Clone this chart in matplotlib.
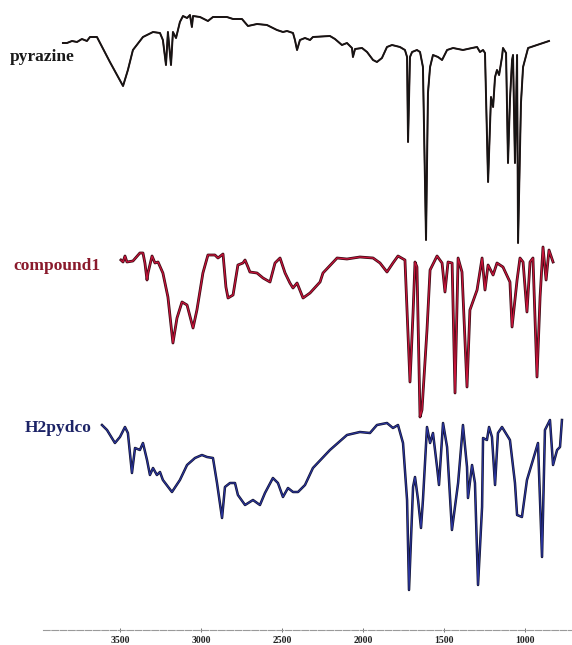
import matplotlib
matplotlib.use("Agg")
import matplotlib.pyplot as plt
import matplotlib.patheffects as pe

# ---------------- data (wavenumber in cm^-1, transmittance in a.u.) ----------------
pyr_wn = [3852, 3827, 3796, 3765, 3735, 3704, 3685, 3642, 3562, 3481, 3451, 3420, 3358, 3296,
          3253, 3235, 3216, 3204, 3185, 3173, 3154, 3130, 3111, 3086, 3068, 3056, 3049, 3006,
          2957, 2926, 2840, 2802, 2747, 2710, 2654, 2593, 2531, 2494, 2469, 2432, 2420, 2407,
          2389, 2358, 2327, 2309, 2204, 2173, 2130, 2099, 2068, 2062, 2049, 2006, 1975, 1938,
          1914, 1883, 1852, 1821, 1772, 1741, 1728, 1722, 1710, 1697, 1667, 1648, 1630, 1611,
          1599, 1586, 1568, 1537, 1512, 1481, 1444, 1383, 1327, 1296, 1278, 1259, 1247, 1228,
          1210, 1197, 1185, 1173, 1160, 1142, 1136, 1117, 1105, 1093, 1080, 1074, 1062, 1049,
          1043, 1025, 1012, 981, 926, 889, 852]
pyr_T = [207, 207, 209, 208, 211, 209, 213, 213, 188, 164, 180, 200, 213, 218,
         217, 210, 185, 218, 185, 218, 212, 228, 234, 232, 235, 223, 234, 233,
         229, 233, 233, 231, 231, 224, 226, 225, 220, 218, 219, 217, 210, 200,
         210, 212, 210, 213, 214, 211, 205, 207, 202, 193, 201, 202, 198, 190,
         188, 192, 203, 205, 203, 200, 193, 108, 193, 198, 200, 198, 183, 10,
         157, 183, 195, 193, 190, 200, 202, 200, 202, 203, 198, 200, 197, 68,
         153, 143, 173, 180, 175, 193, 202, 197, 87, 150, 190, 195, 87, 195,
         7, 147, 183, 202, 205, 207, 209]

cmp_wn = [3494, 3481, 3469, 3457, 3420, 3377, 3358, 3346, 3333, 3327, 3302, 3284, 3265, 3235,
          3204, 3173, 3148, 3117, 3086, 3049, 3025, 2988, 2957, 2914, 2895, 2864, 2846, 2833,
          2802, 2772, 2741, 2728, 2710, 2698, 2654, 2617, 2574, 2543, 2512, 2481, 2451, 2432,
          2407, 2370, 2327, 2265, 2247, 2160, 2099, 2019, 1938, 1895, 1852, 1815, 1784, 1741,
          1710, 1691, 1679, 1667, 1648, 1636, 1605, 1586, 1543, 1512, 1494, 1475, 1450, 1432,
          1413, 1389, 1358, 1340, 1296, 1265, 1247, 1228, 1197, 1173, 1136, 1093, 1080, 1049,
          1031, 1012, 988, 969, 951, 926, 907, 889, 870, 852, 827]
cmp_T = [170, 168, 174, 168, 169, 177, 177, 167, 150, 157, 174, 167, 168, 157,
         133, 87, 112, 128, 125, 102, 120, 157, 175, 175, 172, 176, 143, 132,
         135, 165, 167, 170, 163, 158, 157, 152, 148, 167, 172, 157, 147, 142,
         147, 132, 137, 148, 157, 172, 171, 173, 172, 167, 158, 167, 174, 170,
         48, 117, 168, 163, 13, 20, 100, 160, 174, 167, 138, 168, 167, 37,
         172, 158, 43, 120, 140, 172, 140, 165, 155, 167, 163, 148, 103, 150,
         172, 168, 118, 168, 172, 53, 133, 183, 150, 180, 168]

h2p_wn = [3611, 3580, 3531, 3500, 3469, 3451, 3426, 3407, 3377, 3358, 3333, 3315, 3296, 3272,
          3253, 3235, 3179, 3130, 3086, 3037, 2994, 2963, 2926, 2901, 2870, 2852, 2821, 2790,
          2772, 2728, 2679, 2636, 2605, 2556, 2525, 2494, 2463, 2432, 2401, 2358, 2309, 2204,
          2099, 2019, 1957, 1914, 1852, 1815, 1784, 1753, 1728, 1716, 1691, 1679, 1660, 1642,
          1630, 1605, 1586, 1568, 1543, 1531, 1506, 1481, 1451, 1413, 1383, 1358, 1352, 1327,
          1309, 1290, 1265, 1259, 1235, 1222, 1204, 1185, 1167, 1142, 1093, 1062, 1049, 1019,
          988, 951, 920, 895, 877, 846, 827, 802, 784, 772]
h2p_T = [175, 170, 157, 163, 173, 167, 127, 152, 150, 157, 140, 125, 132, 125,
         128, 120, 108, 120, 135, 142, 145, 143, 142, 117, 82, 113, 117, 117,
         105, 95, 100, 95, 107, 122, 117, 103, 112, 108, 108, 115, 132, 150,
         165, 168, 167, 175, 177, 172, 175, 157, 100, 10, 113, 123, 100, 72,
         100, 173, 157, 167, 133, 115, 177, 153, 70, 117, 175, 133, 102, 135,
         117, 15, 93, 162, 160, 173, 163, 115, 167, 173, 160, 117, 85, 83,
         120, 140, 157, 43, 170, 180, 135, 150, 153, 180]

labels = ["pyrazine", "compound1", "H2pydco"]
tick_vals = [3500, 3000, 2500, 2000, 1500, 1000]

# ---------------- figure ----------------
W, H = 572, 645
fig = plt.figure(figsize=(W / 100, H / 100), dpi=100)
ax = fig.add_axes([43 / W, 0, (W - 43) / W, 1])
ax.set_xlim(3975, 710)
ax.set_ylim(0, H)

offsets = [395, 215, 45]

ax.plot(pyr_wn, [offsets[0] + t for t in pyr_T], color="#151515", lw=1.0,
        solid_joinstyle="round",
        path_effects=[pe.Stroke(linewidth=1.4, foreground="#2a1414"), pe.Normal()])
ax.plot(cmp_wn, [offsets[1] + t for t in cmp_T], color="#c8143a", lw=0.9,
        solid_joinstyle="round",
        path_effects=[pe.Stroke(linewidth=2.0, foreground="#3a0a14"), pe.Normal()])
ax.plot(h2p_wn, [offsets[2] + t for t in h2p_T], color="#2a34a0", lw=0.8,
        solid_joinstyle="round",
        path_effects=[pe.Stroke(linewidth=1.8, foreground="#12142e"), pe.Normal()])

# labels
lab_font = dict(family="Liberation Serif", fontweight="bold", fontsize=12.5)
fig.text(10 / W, 1 - 57 / H, labels[0], color="#1a1a1a", va="center", ha="left", **lab_font)
fig.text(13 / W, 1 - 266 / H, labels[1], color="#8a1a2c", va="center", ha="left", **lab_font)
fig.text(25 / W, 1 - 428 / H, labels[2], color="#1c2366", va="center", ha="left", **lab_font)

# axis styling
for s in ["top", "left", "right"]:
    ax.spines[s].set_visible(False)
ax.spines["bottom"].set_position(("data", H - 630))
ax.spines["bottom"].set_color("#9a9a9a")
ax.spines["bottom"].set_linewidth(0.8)
ax.spines["bottom"].set_linestyle((0, (6, 1.5)))
ax.set_xticks(tick_vals)
ax.set_xticklabels([str(v) for v in tick_vals])
ax.tick_params(axis="x", direction="inout", length=3, width=0.7, color="#777777",
               pad=3, labelsize=7, labelcolor="#222222")
for lab in ax.get_xticklabels():
    lab.set_fontfamily("Liberation Serif")
    lab.set_fontweight("bold")
ax.set_yticks([])
ax.patch.set_alpha(0)

fig.savefig("out.png", dpi=100, facecolor="white")
